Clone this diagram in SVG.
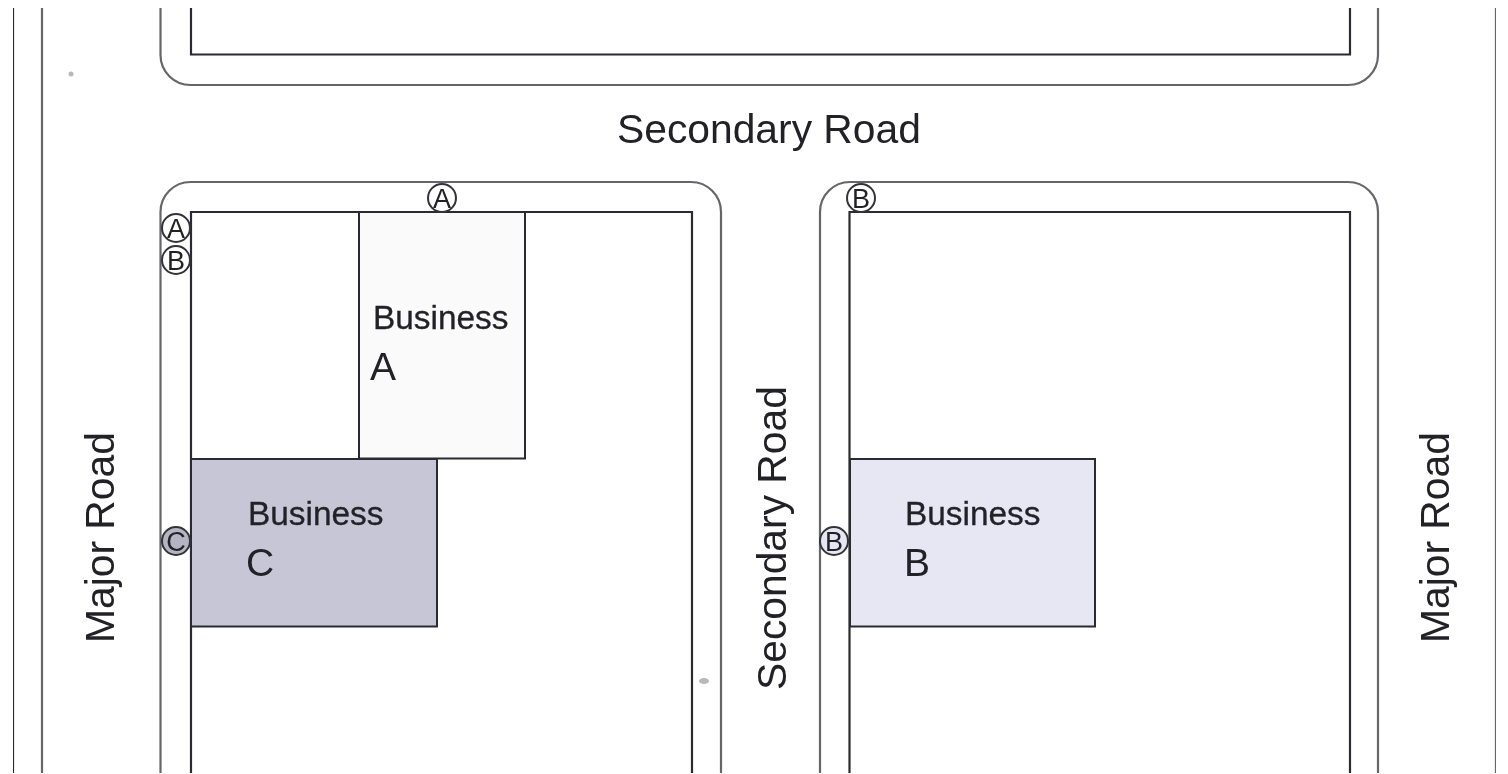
<svg xmlns="http://www.w3.org/2000/svg" width="1508" height="774" viewBox="0 0 1508 774">
<style>
.ln{fill:none;stroke:#2c2c30;stroke-width:2.2}
.lt{fill:none;stroke:#66666b;stroke-width:2.2}
.bx{stroke:#2c2c30;stroke-width:2}
text{font-family:"Liberation Sans",Arial,sans-serif;fill:#222228}
.road{font-size:40.800px}
.biz{font-size:33.400px;stroke:#222228;stroke-width:.3}
.let{font-size:39px}
.mk{stroke:#333338;stroke-width:2}
.mt{font-size:27px;text-anchor:middle}
</style>
<defs><filter id="scan" x="0" y="0" width="100%" height="100%"><feGaussianBlur stdDeviation="0.45"/></filter></defs>
<rect width="1508" height="774" fill="#fff"/>
<g filter="url(#scan)">
<g id="roads">
<path class="ln" d="M13 8V773"/>
<path class="lt" d="M42 8V773"/>
<path class="lt" d="M1496 8V773"/>
</g>
<g id="block-top">
<path class="lt" d="M160.500 8V55A30 30 0 0 0 190.500 85H1348A30 30 0 0 0 1378 55V8"/>
<path class="ln" d="M191 8V54.500H1350V8"/>
</g>
<g id="block-left">
<path class="lt" d="M160.500 773V212A30 30 0 0 1 190.500 182H691A30 30 0 0 1 721 212V773"/>
<path class="ln" d="M191 773V212H692V773"/>
</g>
<g id="block-right">
<path class="lt" d="M820 773V212A30 30 0 0 1 850 182H1348A30 30 0 0 1 1378 212V773"/>
<path class="ln" d="M849.500 773V212H1350V773"/>
</g>
<g id="business-a">
<rect class="bx" x="359" y="212" width="166" height="246.500" fill="#fafafa"/>
<text class="biz" x="373" y="329">Business</text>
<text class="let" x="370" y="380">A</text>
</g>
<g id="business-c">
<rect class="bx" x="191" y="459" width="246" height="167.500" fill="#c6c6d6"/>
<text class="biz" x="248" y="525">Business</text>
<text class="let" x="246" y="576">C</text>
</g>
<g id="business-b">
<rect class="bx" x="850" y="459" width="245" height="167.500" fill="#e7e7f3"/>
<text class="biz" x="905" y="525">Business</text>
<text class="let" x="904" y="576">B</text>
</g>
<g id="access-a1"><circle class="mk" cx="442" cy="198" r="14" fill="#fff"/><text class="mt" x="442" y="207.500">A</text></g>
<g id="access-a2"><circle class="mk" cx="176" cy="228" r="14" fill="#fff"/><text class="mt" x="176" y="237.500">A</text></g>
<g id="access-b1"><circle class="mk" cx="176" cy="260" r="14" fill="#fff"/><text class="mt" x="176" y="269.500">B</text></g>
<g id="access-b2"><circle class="mk" cx="861" cy="198" r="14" fill="#fff"/><text class="mt" x="861" y="207.500">B</text></g>
<g id="access-b3"><circle class="mk" cx="834" cy="541" r="14" fill="#e7e7f3"/><text class="mt" x="834" y="550.500">B</text></g>
<g id="access-c"><circle class="mk" cx="176" cy="541" r="14" fill="#b4b4c2"/><text class="mt" x="176" y="550.500">C</text></g>
<g id="labels">
<text class="road" x="617" y="143">Secondary Road</text>
<text class="road" transform="translate(114 643) rotate(-90)">Major Road</text>
<text class="road" transform="translate(786 690) rotate(-90)">Secondary Road</text>
<text class="road" transform="translate(1449 643) rotate(-90)">Major Road</text>
</g>
<g id="specks" fill="#b8b8b8">
<circle cx="71" cy="74" r="2.500"/>
<ellipse cx="704" cy="681" rx="5" ry="3"/>
</g>
</g>
</svg>
